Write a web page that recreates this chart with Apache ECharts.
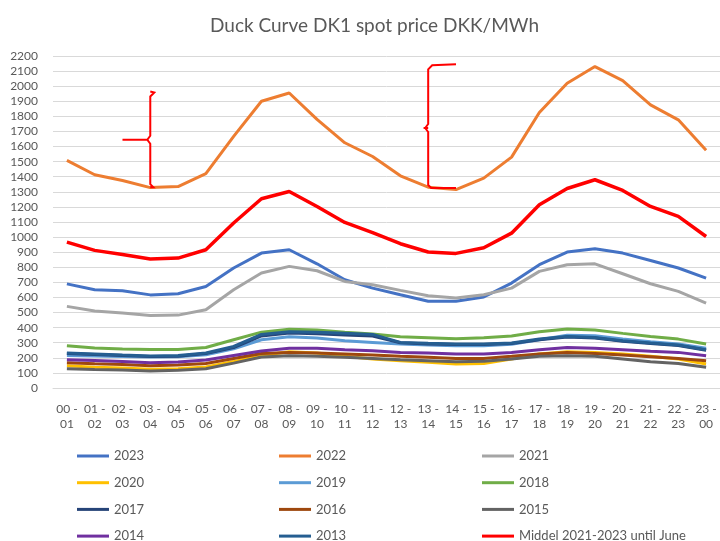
<!DOCTYPE html>
<html>
<head>
<meta charset="utf-8">
<script src="https://cdn.jsdelivr.net/npm/echarts@6/dist/echarts.min.js"></script>
<style>
  html, body { margin: 0; padding: 0; background: #fff; }
  #chart { width: 720px; height: 541px; }
</style>
</head>
<body>
<div id="chart"></div>
<script>
// hours of the day
const hours = ['00 - 01', '01 - 02', '02 - 03', '03 - 04', '04 - 05', '05 - 06', '06 - 07', '07 - 08',
  '08 - 09', '09 - 10', '10 - 11', '11 - 12', '12 - 13', '13 - 14', '14 - 15', '15 - 16',
  '16 - 17', '17 - 18', '18 - 19', '19 - 20', '20 - 21', '21 - 22', '22 - 23', '23 - 00'];

// spot price per hour, DKK/MWh
const y2023 = [690, 651, 645, 617, 625, 673, 795, 894, 916, 823, 717, 662, 618, 575, 575, 603, 695, 817, 901, 923, 894, 845, 795, 728];
const y2022 = [1508, 1413, 1375, 1328, 1335, 1420, 1667, 1900, 1955, 1780, 1625, 1534, 1406, 1331, 1315, 1391, 1530, 1826, 2020, 2130, 2037, 1876, 1777, 1575];
const y2021 = [541, 510, 497, 481, 483, 519, 651, 762, 806, 777, 706, 684, 647, 611, 596, 618, 662, 773, 817, 823, 757, 691, 640, 563];
const y2020 = [148, 138, 132, 125, 128, 140, 175, 215, 240, 232, 210, 192, 181, 170, 159, 163, 192, 225, 240, 236, 225, 210, 192, 159];
const y2019 = [215, 212, 208, 205, 207, 220, 260, 320, 340, 331, 313, 302, 291, 285, 280, 280, 290, 320, 350, 347, 324, 307, 291, 263];
const y2018 = [280, 265, 258, 255, 255, 268, 320, 370, 390, 384, 369, 358, 340, 333, 326, 333, 345, 373, 391, 384, 362, 342, 324, 291];
const y2017 = [228, 222, 215, 208, 211, 228, 268, 345, 365, 360, 352, 345, 300, 292, 288, 288, 295, 320, 338, 332, 310, 295, 282, 250];
const y2016 = [168, 160, 155, 148, 152, 162, 195, 228, 236, 232, 225, 218, 210, 203, 196, 196, 210, 225, 236, 229, 218, 207, 196, 181];
const y2015 = [128, 122, 120, 112, 118, 128, 165, 205, 214, 210, 203, 196, 188, 181, 174, 177, 192, 210, 214, 210, 192, 174, 163, 137];
const y2014 = [188, 182, 175, 168, 172, 185, 215, 245, 263, 263, 254, 247, 236, 232, 225, 225, 236, 254, 269, 263, 254, 243, 236, 214];
const y2013 = [232, 225, 218, 212, 215, 232, 275, 355, 373, 369, 362, 355, 302, 296, 291, 291, 298, 324, 342, 335, 313, 298, 285, 254];
const middel = [967, 912, 885, 855, 861, 916, 1093, 1254, 1302, 1203, 1097, 1030, 956, 901, 892, 929, 1026, 1214, 1322, 1380, 1309, 1203, 1137, 1004];

const seriesNames = ['2023', '2022', '2021', '2020', '2019', '2018', '2017', '2016', '2015', '2014', '2013', 'Middel 2021-2023 until June'];
const seriesData = [y2023, y2022, y2021, y2020, y2019, y2018, y2017, y2016, y2015, y2014, y2013, middel];
const colors = ['#4472C4', '#ED7D31', '#A5A5A5', '#FFC000', '#5B9BD5', '#70AD47', '#264478', '#9E480E', '#636363', '#7030A0', '#255E91', '#FF0000'];

const chart = echarts.init(document.getElementById('chart'));
const font = 'Lato, "Open Sans", sans-serif';
const grey = '#595959';

// legend: three columns, rows read left to right
const legendCol = (names, left) => ({
  orient: 'vertical',
  left: left,
  top: 444,
  height: 120,
  icon: 'rect',
  itemWidth: 32,
  itemHeight: 3,
  itemGap: 12.7,
  data: names,
  textStyle: { color: grey, fontFamily: font, fontSize: 13, lineHeight: 14 }
});

chart.setOption({
  animation: false,
  title: {
    text: 'Duck Curve DK1 spot price DKK/MWh',
    left: 205,
    top: 11,
    textStyle: { color: grey, fontFamily: font, fontSize: 19, fontWeight: 'normal' }
  },
  legend: [
    legendCol([seriesNames[0], seriesNames[3], seriesNames[6], seriesNames[9]], 72),
    legendCol([seriesNames[1], seriesNames[4], seriesNames[7], seriesNames[10]], 274),
    legendCol([seriesNames[2], seriesNames[5], seriesNames[8], seriesNames[11]], 477)
  ],
  grid: { left: 53, right: -7, top: 56, bottom: 153 },
  xAxis: {
    type: 'category',
    data: hours,
    axisLine: { lineStyle: { color: '#d9d9d9' } },
    axisTick: { show: false },
    axisLabel: {
      interval: 0,
      margin: 14,
      color: grey,
      fontFamily: font,
      fontSize: 12,
      lineHeight: 15,
      formatter: (v) => v.replace(' - ', ' -\n')
    }
  },
  yAxis: {
    type: 'value',
    min: 0,
    max: 2200,
    interval: 100,
    axisLabel: { margin: 15, color: grey, fontFamily: font, fontSize: 12, formatter: (v) => String(v) },
    splitLine: { lineStyle: { color: '#d9d9d9' } }
  },
  series: seriesNames.map((name, i) => ({
    name: name,
    type: 'line',
    data: seriesData[i],
    symbol: 'none',
    color: colors[i],
    lineStyle: { width: name.startsWith('Middel') ? 3.5 : 3 }
  }))
});

// red hand-drawn braces, placed in data coordinates
const px = (x, v) => chart.convertToPixel({ xAxisIndex: 0, yAxisIndex: 0 }, [x, v]);
function brace(x, top, bottom, mid, stubX, hookX) {
  const t = px(x, top), b = px(x, bottom), m = px(x, mid);
  const s = px(stubX, mid), h = px(hookX, top), hb = px(hookX, bottom);
  return {
    type: 'polyline',
    shape: {
      points: [
        [h[0], h[1] - 1], [t[0] + 4, t[1]], [t[0], t[1] + 4],
        [m[0], m[1] - 4], [m[0] - 3, m[1]], [s[0], m[1]], [m[0] - 3, m[1]],
        [m[0], m[1] + 4], [b[0], b[1] - 3], [b[0] + 3, b[1]], [hb[0], b[1]]
      ]
    },
    style: { stroke: '#FF0000', lineWidth: 2, fill: null },
    z: 100
  };
}

chart.setOption({
  graphic: [
    brace(2.92, 1958, 1331, 1645, 2.42, 3.45),
    brace(13.45, 2138, 1325, 1723, 12.9, 14.0)
  ]
});
</script>
</body>
</html>
